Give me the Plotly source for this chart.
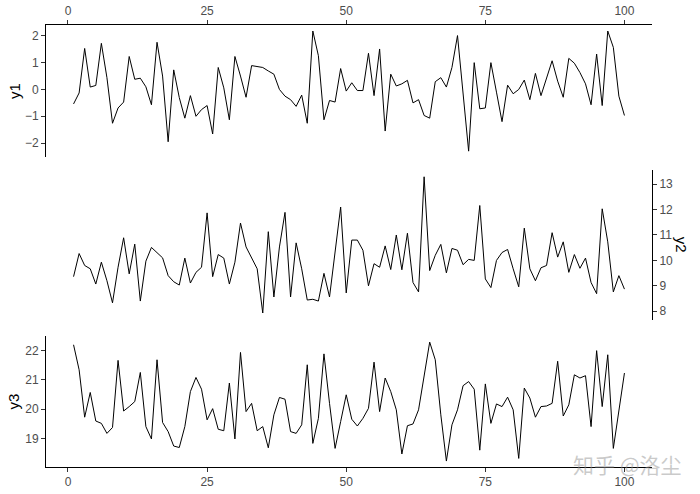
import plotly.graph_objects as go

x = list(range(1, 101))

y1 = [-0.54, -0.13, 1.53, 0.09, 0.15, 1.72, 0.44, -1.26, -0.69, -0.47,
      1.23, 0.38, 0.42, 0.10, -0.57, 1.76, 0.50, -1.95, 0.73, -0.30,
      -1.07, -0.23, -1.00, -0.75, -0.60, -1.66, 0.82, 0.06, -1.13, 1.23,
      0.50, -0.29, 0.89, 0.86, 0.82, 0.69, 0.57, 0.00, -0.25, -0.38,
      -0.63, -0.21, -1.26, 2.18, 1.26, -1.13, -0.41, -0.47, 0.78, -0.06,
      0.25, -0.04, -0.04, 1.35, -0.23, 1.51, -1.55, 0.57, 0.13, 0.21,
      0.34, -0.50, -0.38, -0.97, -1.07, 0.29, 0.44, 0.09, 0.82, 2.01,
      -0.10, -2.30, 1.00, -0.72, -0.69, 1.00, -0.10, -1.20, 0.16, -0.16,
      0.00, 0.35, -0.38, 0.60, -0.23, 0.38, 1.07, 0.31, -0.29, 1.16,
      0.98, 0.63, 0.21, -0.57, 1.32, -0.60, 2.18, 1.57, -0.25, -0.97]

y2 = [9.36, 10.27, 9.80, 9.67, 9.07, 9.93, 9.20, 8.33, 9.73, 10.89,
      9.47, 10.64, 8.40, 9.97, 10.51, 10.29, 10.10, 9.40, 9.16, 9.03,
      10.09, 9.11, 9.53, 9.73, 11.87, 9.36, 10.23, 10.09, 9.07, 9.93,
      11.47, 10.53, 10.13, 9.67, 7.93, 11.13, 8.56, 10.53, 11.89, 8.56,
      10.69, 9.67, 8.44, 8.47, 8.40, 9.49, 8.56, 10.27, 12.10, 8.72,
      10.80, 10.80, 10.40, 9.00, 9.87, 9.73, 10.57, 9.64, 11.00, 9.63,
      11.07, 9.13, 8.76, 13.29, 9.60, 10.20, 10.63, 9.51, 10.47, 10.40,
      9.83, 10.04, 10.00, 12.16, 9.27, 8.93, 10.00, 10.31, 10.43, 9.67,
      8.96, 11.27, 9.67, 9.20, 9.71, 9.80, 11.09, 10.13, 10.73, 9.53,
      10.23, 9.69, 10.09, 9.13, 8.69, 12.03, 10.73, 8.76, 9.40, 8.87]

y3 = [22.19, 21.34, 19.73, 20.57, 19.60, 19.52, 19.18, 19.38, 21.66, 19.94,
      20.09, 20.26, 21.25, 19.41, 18.99, 21.68, 19.55, 19.24, 18.75, 18.70,
      19.41, 20.60, 21.08, 20.68, 19.64, 20.02, 19.32, 19.27, 20.89, 18.99,
      21.93, 19.92, 20.20, 19.27, 19.41, 18.69, 19.81, 20.40, 20.34, 19.24,
      19.18, 19.47, 21.51, 18.84, 19.69, 21.88, 20.20, 18.67, 19.58, 20.49,
      19.66, 19.43, 19.69, 20.03, 21.60, 19.92, 21.06, 20.60, 19.98, 18.48,
      19.44, 19.50, 19.98, 21.11, 22.28, 21.68, 19.81, 18.24, 19.47, 19.98,
      20.80, 20.94, 20.68, 18.61, 20.86, 19.52, 20.18, 20.09, 20.41, 19.98,
      18.33, 20.72, 20.38, 19.73, 20.09, 20.11, 20.20, 21.63, 19.77, 20.15,
      21.17, 21.06, 21.14, 19.41, 21.99, 20.09, 21.85, 18.67, 19.92, 21.23]

x_ticks = [0, 25, 50, 75, 100]
y1_ticks = [-2, -1, 0, 1, 2]
y2_ticks = [8, 9, 10, 11, 12, 13]
y3_ticks = [19, 20, 21, 22]


def padded(vals, frac=0.05):
    # ggplot-style expansion of the data range
    lo, hi = min(vals), max(vals)
    span = hi - lo
    return [lo - frac * span, hi + frac * span]


FONT = "Liberation Sans, Arial, sans-serif"
tick_font = dict(family=FONT, size=12, color="#4D4D4D")

fig = go.Figure()
fig.add_trace(go.Scatter(x=x, y=y1, mode="lines", line=dict(color="black", width=1),
                         xaxis="x", yaxis="y"))
fig.add_trace(go.Scatter(x=x, y=y2, mode="lines", line=dict(color="black", width=1),
                         xaxis="x2", yaxis="y2"))
fig.add_trace(go.Scatter(x=x, y=y3, mode="lines", line=dict(color="black", width=1),
                         xaxis="x3", yaxis="y3"))

axis_common = dict(showgrid=False, zeroline=False, showline=True, linecolor="black",
                   linewidth=1, ticks="outside", ticklen=4, tickcolor="#333333",
                   tickfont=tick_font, automargin=False)
xr = padded(x)

fig.update_layout(
    width=700, height=494,
    plot_bgcolor="white", paper_bgcolor="white",
    showlegend=False,
    margin=dict(l=46, r=48, t=25, b=27),
    xaxis=dict(axis_common, domain=[0, 1], anchor="y", side="top", range=xr,
               tickvals=x_ticks),
    yaxis=dict(axis_common, domain=[0.701, 1.0], anchor="x", range=padded(y1),
               tickvals=y1_ticks),
    xaxis2=dict(domain=[0, 1], anchor="y2", range=xr, visible=False, automargin=False),
    yaxis2=dict(axis_common, domain=[0.333, 0.672], anchor="x2", side="right",
                range=padded(y2), tickvals=y2_ticks),
    xaxis3=dict(axis_common, domain=[0, 1], anchor="y3", side="bottom", range=xr,
                tickvals=x_ticks),
    yaxis3=dict(axis_common, domain=[0, 0.296], anchor="x3", range=padded(y3),
                tickvals=y3_ticks),
)

title_font = dict(family=FONT, size=15, color="black")
for name, ref, xpos, angle in [("y1", "y domain", -0.053, -90),
                               ("y2", "y2 domain", 1.048, 90),
                               ("y3", "y3 domain", -0.053, -90)]:
    fig.add_annotation(text=name, xref="paper", yref=ref, x=xpos, y=0.5,
                       xanchor="center", yanchor="middle", textangle=angle,
                       showarrow=False, font=title_font)

# watermark
fig.add_annotation(text="知乎 @洛尘", xref="paper", yref="paper", x=0.959, y=0.006,
                   xanchor="center", yanchor="middle", showarrow=False,
                   font=dict(family="Noto Sans CJK SC", size=21,
                             color="rgba(150,150,150,0.5)"))

# drop the default page margin so the figure sits at the window's corner
fig.write_html("out.html", config={"displayModeBar": False},
               post_script="document.body.style.margin = '0';")
